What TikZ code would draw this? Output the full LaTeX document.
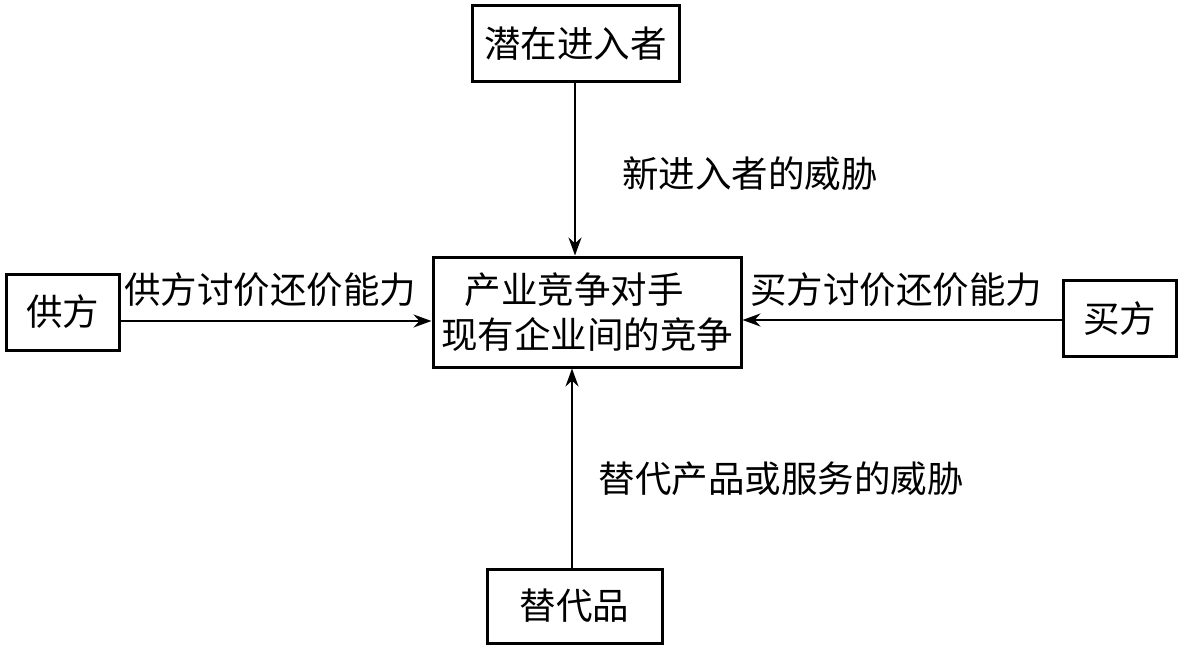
\documentclass[tikz,border=0pt]{standalone}
\usepackage{fontspec}
\newfontfamily\cjk{Noto Sans CJK SC}
\usetikzlibrary{arrows.meta}
\begin{document}
\begin{tikzpicture}[x=1pt,y=-1pt,
  box/.style={draw,line width=3pt,inner sep=0pt,font=\cjk\fontsize{36.5}{42}\selectfont},
  lbl/.style={inner sep=0pt,font=\cjk\fontsize{36.5}{42}\selectfont},
  conn/.style={line width=2.2pt,-{Stealth[length=18pt,width=13pt]}}]
\useasboundingbox (0,0) rectangle (1182,650);
\node[box,minimum width=207pt,minimum height=76pt] (top) at (575.5,44) {潜在进入者};
\node[box,minimum width=308pt,minimum height=110pt,align=center,font=\cjk\fontsize{36.5}{45}\selectfont] (mid) at (587,312) {产业竞争对手\hspace*{26pt}\\现有企业间的竞争};
\node[box,minimum width=113pt,minimum height=76pt] (left) at (62.5,312) {供方};
\node[box,minimum width=113pt,minimum height=76pt] (right) at (1119.5,318.5) {买方};
\node[box,minimum width=175pt,minimum height=74pt] (bot) at (574.5,606) {替代品};
\draw[conn] ([xshift=-0.5pt]top.south) -- ([xshift=-0.5pt]top.south |- mid.north);
\draw[conn] ([xshift=-2.5pt]bot.north) -- ([xshift=-2.5pt]bot.north |- mid.south);
\draw[conn] ([yshift=-9pt]left.east) -- ([yshift=-9pt]left.east -| mid.west);
\draw[conn] ([yshift=-1.5pt]right.west) -- ([yshift=-1.5pt]right.west -| mid.east);
\node[lbl] (l1) at (750,174) {新进入者的威胁};
\node[lbl] (l2) at (781,479) {替代产品或服务的威胁};
\node[lbl] (l3) at (270,290) {供方讨价还价能力};
\node[lbl] (l4) at (896,290) {买方讨价还价能力};
\end{tikzpicture}
\end{document}
